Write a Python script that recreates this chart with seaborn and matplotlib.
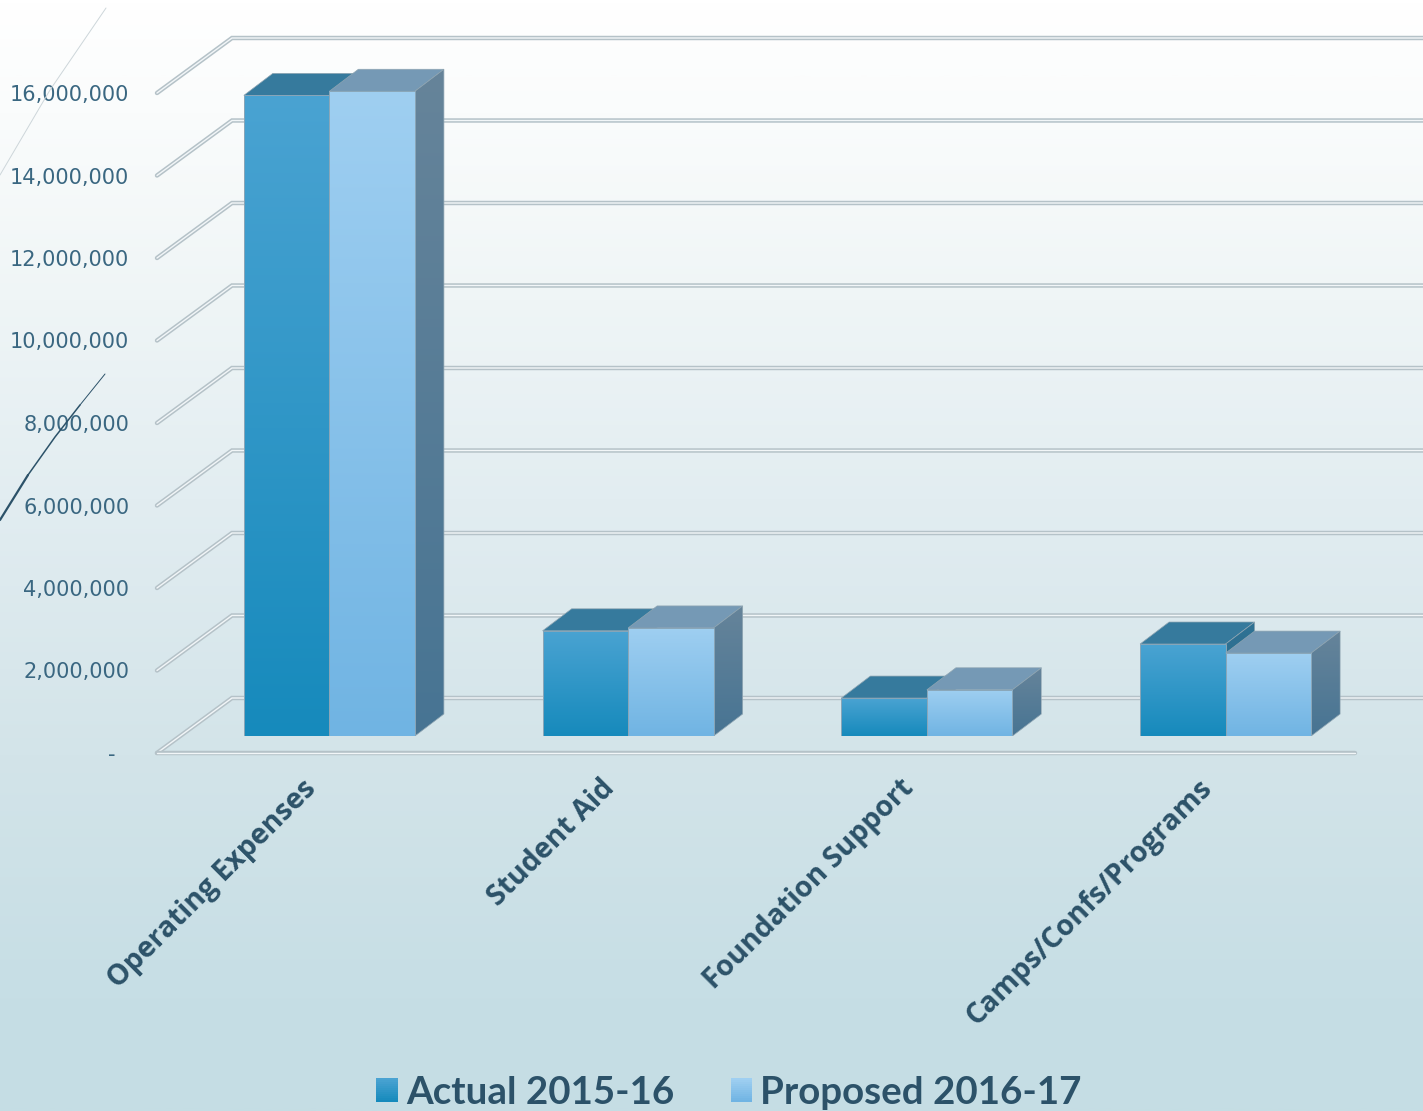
import numpy as np
import pandas as pd
import matplotlib
matplotlib.use("Agg")
import matplotlib.pyplot as plt
import seaborn as sns
from matplotlib.colors import LinearSegmentedColormap, to_rgb
from matplotlib.legend_handler import HandlerBase
from matplotlib.lines import Line2D
from matplotlib.patches import Patch, Polygon, Rectangle
from matplotlib.transforms import IdentityTransform, ScaledTranslation

categories = ["Operating Expenses", "Student Aid", "Foundation Support", "Camps/Confs/Programs"]
series_names = ["Actual 2015-16", "Proposed 2016-17"]
actual = [15530000, 2550000, 920000, 2230000]
proposed = [15630000, 2620000, 1120000, 2010000]
y_ticks = [0, 2000000, 4000000, 6000000, 8000000, 10000000, 12000000, 14000000, 16000000]
y_labels = ["-", "2,000,000", "4,000,000", "6,000,000", "8,000,000", "10,000,000",
            "12,000,000", "14,000,000", "16,000,000"]

W, H = 1423, 1111
DX, DY = 29, 22          # bar depth in pixels
WX, WY = 75, 55          # wall depth in pixels
TICK_COL = "#3a6781"
TEXT_COL = "#2c5269"

front_grad = [("#4aa3d2", "#168abc"), ("#9fcff1", "#70b4e3")]
side_grad = [("#2f7294", "#2a6a8a"), ("#66849a", "#477493")]
top_col = ["#367a9d", "#7599b5"]

sns.set_theme(style="white")
fig = plt.figure(figsize=(W / 100, H / 100), dpi=100)


def px_axes(l, t, r, b, **kw):
    return fig.add_axes([l / W, 1 - b / H, (r - l) / W, (b - t) / H], **kw)


# background
bg = px_axes(0, 0, W, H)
stops = [(0.0, "#ffffff"), (0.1, "#fafcfc"), (0.27, "#eff5f6"), (0.45, "#e2edf1"),
         (0.68, "#d3e4e9"), (0.9, "#c6dee5"), (1.0, "#c5dde4")]
bg_cmap = LinearSegmentedColormap.from_list("bg", stops)
bg.imshow(np.linspace(0, 1, 512)[:, None], cmap=bg_cmap, aspect="auto", extent=(0, 1, 0, 1), vmin=0, vmax=1)
bg.axis("off")

# front plane: value axis and grid
front = px_axes(157, 93, 1355, 753, facecolor="none")
front.set_xlim(0, 1)
front.set_ylim(0, 16000000)
front.set_xticks([])
front.set_yticks(y_ticks, y_labels, fontsize=15, color=TICK_COL, family="DejaVu Sans")
front.tick_params(axis="y", length=0, pad=20)
sns.despine(ax=front, left=True, bottom=True)
dash = front.get_yticklabels()[0]
dash.set_transform(dash.get_transform() + ScaledTranslation(-14 / 100, 0, fig.dpi_scale_trans))


def disp(x, y):
    return (x, H - y)


def draw_line(pts, outer="#b5c2c8", inner="#f2f6f8", z=1):
    xy = np.array([disp(*p) for p in pts])
    fig.add_artist(Line2D(xy[:, 0], xy[:, 1], color=outer, lw=3.2, transform=IdentityTransform(),
                          solid_capstyle="round", solid_joinstyle="miter", zorder=z))
    fig.add_artist(Line2D(xy[:, 0], xy[:, 1], color=inner, lw=1.0, transform=IdentityTransform(),
                          solid_capstyle="round", solid_joinstyle="miter", zorder=z))


# bars (plane sits 16 px behind the front edge of the floor)
PER_UNIT = (752 - 92) / 16000000
bars_ax = px_axes(180, 736 - 17000000 * PER_UNIT, 1375, 736, facecolor="none", zorder=5)
df = pd.DataFrame({
    "category": categories * 2,
    "series": [series_names[0]] * 4 + [series_names[1]] * 4,
    "value": actual + proposed,
})
sns.barplot(data=df, x="category", y="value", hue="series", order=categories, hue_order=series_names,
            width=0.5726, gap=0, legend=False, ax=bars_ax, saturation=1, errorbar=None)
bars_ax.set_xlim(-0.5, 3.5)
bars_ax.set_ylim(0, 17000000)
bars_ax.set_autoscale_on(False)
bars_ax.set_xlabel("")
bars_ax.set_ylabel("")
bars_ax.set_yticks([])
bars_ax.patch.set_alpha(0)
sns.despine(ax=bars_ax, left=True, bottom=True)
bars_ax.tick_params(axis="x", length=0, pad=34.6)
bars_ax.set_xticks(range(4), categories)
shift = ScaledTranslation(-17.5 / 100, 0, fig.dpi_scale_trans)
for lab in bars_ax.get_xticklabels():
    lab.set(rotation=45, ha="right", va="center", rotation_mode="anchor", fontsize=20.5, fontweight="bold",
            color=TEXT_COL, family="Open Sans")
    lab.set_transform(lab.get_transform() + shift)

fig.canvas.draw()

# wall grid lines, derived from the value axis
for v in y_ticks:
    _, yd = front.transData.transform((0, v))
    y = H - yd
    if v == 0:
        draw_line([(157, y), (157 + WX, y - WY), (W + 5, y - WY)])
        draw_line([(157, y), (1355, y)])
    else:
        draw_line([(157, y), (157 + WX, y - WY), (W + 5, y - WY)])


def grad_cmap(c):
    return LinearSegmentedColormap.from_list("g", [to_rgb(c[0]), to_rgb(c[1])])


def gradient(ax, clip, bbox_disp, colors, z):
    inv = ax.transData.inverted()
    (x0, y0), (x1, y1) = inv.transform(bbox_disp)
    im = ax.imshow(np.linspace(0, 1, 256)[:, None], cmap=grad_cmap(colors), aspect="auto",
                   extent=(x0, x1, y0, y1), origin="upper", vmin=0, vmax=1, zorder=z)
    im.set_clip_path(clip)


for s, cont in enumerate(bars_ax.containers):
    for bar in cont:
        (x0, y0), (x1, y1) = bars_ax.transData.transform(
            [(bar.get_x(), 0), (bar.get_x() + bar.get_width(), bar.get_height())])
        bar.set_visible(False)
        z = 3 + s * 3
        top = Polygon([(x0, y1), (x0 + DX, y1 + DY), (x1 + DX, y1 + DY), (x1, y1)],
                      transform=IdentityTransform(), fc=top_col[s], ec="#8fa5b2", lw=0.5, zorder=z)
        bars_ax.add_patch(top)
        side = Polygon([(x1, y0), (x1 + DX, y0 + DY), (x1 + DX, y1 + DY), (x1, y1)],
                       transform=IdentityTransform(), fc="none", ec="#8fa5b2", lw=0.5, zorder=z + 0.2)
        bars_ax.add_patch(side)
        gradient(bars_ax, side, [(x1, y0), (x1 + DX, y1 + DY)], side_grad[s], z + 0.1)
        face = Rectangle((x0, y0), x1 - x0, y1 - y0, transform=IdentityTransform(), fc="none",
                         ec="#8aa6b8", lw=0.7, zorder=z + 1.2)
        bars_ax.add_patch(face)
        gradient(bars_ax, face, [(x0, y0), (x1, y1)], front_grad[s], z + 1.1)
bars_ax.set_xlim(-0.5, 3.5)
bars_ax.set_ylim(0, 17000000)


# legend with gradient swatches
class GradHandler(HandlerBase):
    def create_artists(self, legend, orig, xd, yd, width, height, fontsize, trans):
        cmap = grad_cmap(orig.grad)
        n = 12
        arts = []
        for i in range(n):
            arts.append(Rectangle((xd * -1, -yd + height * (n - 1 - i) / n), width, height / n + 0.3,
                                  fc=cmap(i / (n - 1)), ec="none", transform=trans))
        return arts


h0 = Patch(label=series_names[0]); h0.grad = front_grad[0]
h1 = Patch(label=series_names[1]); h1.grad = front_grad[1]
leg = fig.legend(handles=[h0, h1], handler_map={Patch: GradHandler()}, ncol=2, frameon=False,
                 loc="center", bbox_to_anchor=(729 / W, 1 - 1093 / H),
                 labelcolor=TEXT_COL, prop={"family": "Lato", "weight": "bold", "size": 27.7},
                 handlelength=0.57, handleheight=0.57, handletextpad=0.2, columnspacing=1.46)
leg.set_zorder(10)

# stray decorative strokes at the left edge
fig.add_artist(Line2D([106, 50, 0], [H - 8, H - 90, H - 175], color="#cdd6da", lw=0.7, transform=IdentityTransform()))
fig.add_artist(Line2D([105, 80], [H - 374, H - 405], color="#2c5269", lw=0.7, transform=IdentityTransform()))
fig.add_artist(Line2D([80, 55, 28], [H - 405, H - 437, H - 475], color="#2c5269", lw=1.1, transform=IdentityTransform()))
fig.add_artist(Line2D([28, 0], [H - 475, H - 520], color="#2c5269", lw=1.6, transform=IdentityTransform()))

fig.savefig("out.png", dpi=100)
